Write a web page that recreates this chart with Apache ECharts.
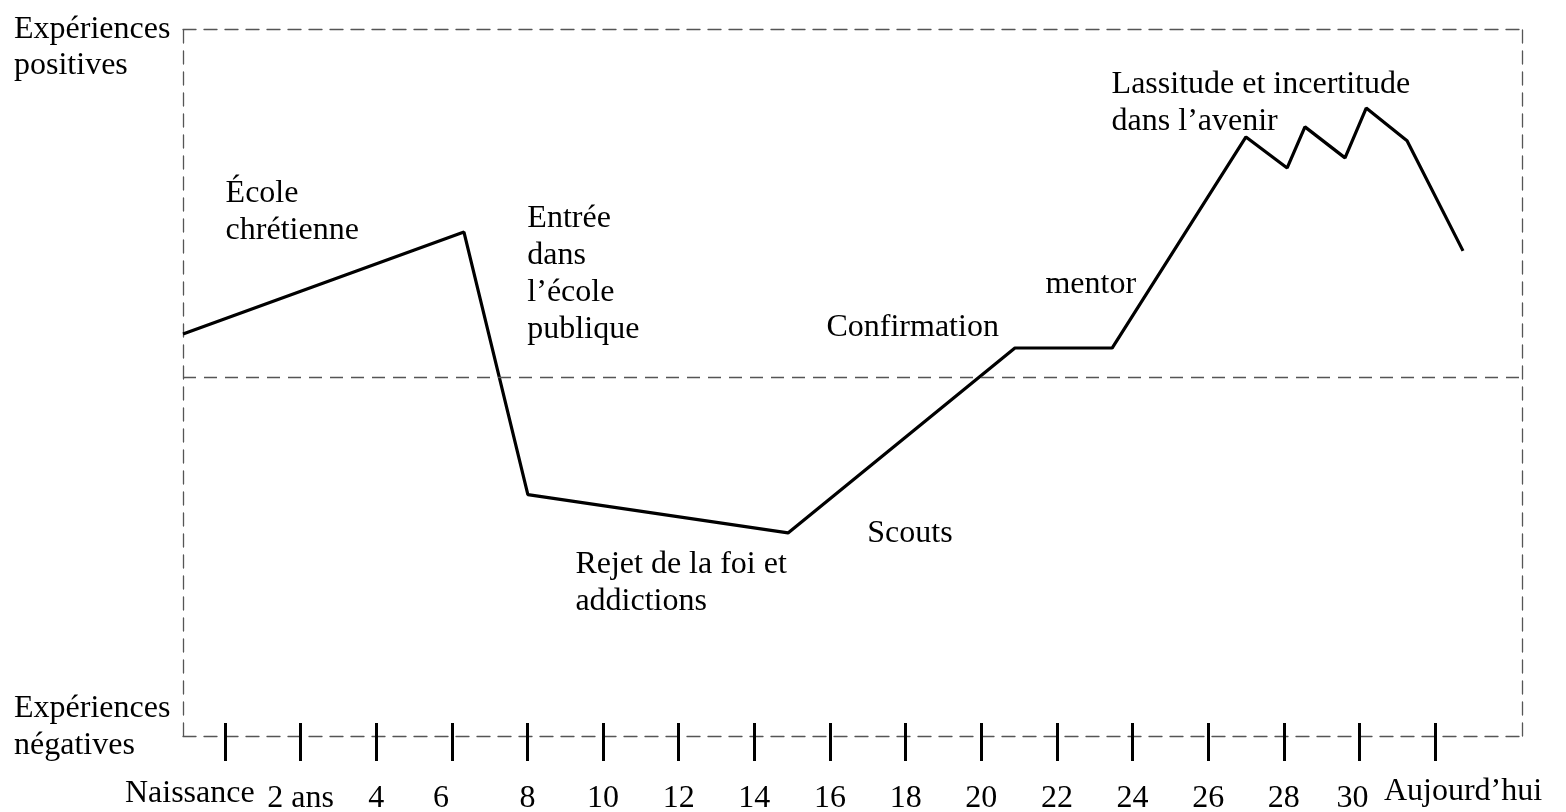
<!DOCTYPE html>
<html>
<head>
<meta charset="utf-8">
<script src="https://cdn.jsdelivr.net/npm/echarts@6/dist/echarts.min.js"></script>
<style>
	html, body { margin: 0; padding: 0; background: #fff; }
	#chart { width: 1566px; height: 812px; }
</style>
</head>
<body>
<div id="chart"></div>
<script>
	// courbe de vie : âge (ans) et ressenti (positif > 0, négatif < 0)
	const ages = [-1.11, 6.32, 8.01, 14.89, 20.89, 23.46, 27.0, 28.09, 28.56, 29.62, 30.18, 31.26, 32.74];
	const feelings = [1.24, 4.17, -3.37, -4.47, 0.84, 0.84, 6.90, 6.01, 7.19, 6.30, 7.73, 6.79, 3.63];

	// graduations de l'axe des âges
	const tickAges = [0, 2, 4, 6, 8, 10, 12, 14, 16, 18, 20, 22, 24, 26, 28, 30, 32];
	const tickLabels = ['Naissance', '2 ans', '4', '6', '8', '10', '12', '14', '16', '18', '20', '22', '24', '26', '28', '30', 'Aujourd\u2019hui'];

	// événements annotés (coin haut-gauche du texte)
	const eventLabels = [
		'École\nchrétienne',
		'Entrée\ndans\nl\u2019école\npublique',
		'Rejet de la foi et\naddictions',
		'Scouts',
		'Confirmation',
		'mentor',
		'Lassitude et incertitude\ndans l\u2019avenir'
	];
	const eventAges = [0.03, 8.01, 9.28, 17.0, 15.92, 21.71, 23.46];
	const eventLevels = [5.78, 5.06, -4.85, -3.96, 1.93, 3.19, 8.93];

	const X_MIN = -1.11, X_MAX = 34.3;
	const Y_MIN = -10.3, Y_MAX = 10;
	const FONT = '"Liberation Serif", "DejaVu Serif", serif';
	const dashed = { color: '#555', width: 1.3, type: [13, 8] };
	const txt = { fontFamily: FONT, fontSize: 32, lineHeight: 37, color: '#000' };

	// petit décalage horizontal de certains libellés (en années), comme sur l'original
	const labelShift = { 0: -0.93, 6: -0.29, 30: -0.18, 32: 0.74 };
	const labelValues = tickAges.map(a => a + (labelShift[a] || 0));
	const nearest = (v) => {
		let best = 0;
		labelValues.forEach((l, i) => { if (Math.abs(l - v) < Math.abs(labelValues[best] - v)) best = i; });
		return best;
	};

	const chart = echarts.init(document.getElementById('chart'));

	const option = {
		animation: false,
		backgroundColor: '#fff',
		grid: { left: 183, right: 44, top: 29, bottom: 76, outerBoundsMode: 'none' },
		xAxis: [{
			type: 'value', min: X_MIN, max: X_MAX, position: 'bottom',
			axisLine: { show: true, onZero: false, lineStyle: dashed },
			axisTick: { show: true, customValues: tickAges, inside: true, length: 13, lineStyle: { color: '#000', width: 3 } },
			axisLabel: {
				customValues: labelValues,
				margin: 37,
				showMinLabel: true,
				showMaxLabel: true,
				hideOverlap: false,
				formatter: (v) => {
					const i = nearest(v);
					const t = tickLabels[i];
					if (i === 0) return '{a|' + t + '}';
					if (i === tickLabels.length - 1) return '{b|' + t + '}';
					return '{n|' + t + '}';
				},
				rich: {
					n: Object.assign({}, txt, { padding: [14, 0, 0, 0] }),
					a: Object.assign({}, txt, { padding: [5, 0, 0, 0] }),
					b: Object.assign({}, txt, { padding: [0, 0, 0, 0] })
				}
			},
			splitLine: { show: false }
		}, {
			type: 'value', min: X_MIN, max: X_MAX, position: 'bottom',
			axisLine: { show: false, onZero: false },
			axisTick: { show: true, customValues: tickAges, length: 25, lineStyle: { color: '#000', width: 3 } },
			axisLabel: { show: false },
			splitLine: { show: false }
		}, {
			type: 'value', min: X_MIN, max: X_MAX, position: 'top',
			axisLine: { show: true, onZero: false, lineStyle: dashed },
			axisTick: { show: false },
			axisLabel: { show: false },
			splitLine: { show: false }
		}],
		yAxis: [{
			type: 'value', min: Y_MIN, max: Y_MAX, position: 'left',
			axisLine: { show: true, onZero: false, lineStyle: dashed },
			axisTick: { show: false },
			axisLabel: { show: false },
			splitLine: { show: false }
		}, {
			type: 'value', min: Y_MIN, max: Y_MAX, position: 'right',
			axisLine: { show: true, onZero: false, lineStyle: dashed },
			axisTick: { show: false },
			axisLabel: { show: false },
			splitLine: { show: false }
		}],
		graphic: [{
			type: 'text', left: 14, top: 12, silent: true,
			style: { text: 'Expériences\npositives', font: '32px ' + FONT, lineHeight: 36, fill: '#000' }
		}, {
			type: 'text', left: 14, top: 690, silent: true,
			style: { text: 'Expériences\nnégatives', font: '32px ' + FONT, lineHeight: 37, fill: '#000' }
		}],
		series: [{
			type: 'line',
			xAxisIndex: 0, yAxisIndex: 0,
			data: ages.map((a, i) => [a, feelings[i]]),
			showSymbol: false,
			symbol: 'none',
			lineStyle: { color: '#000', width: 3.2 },
			silent: true,
			markLine: {
				silent: true,
				symbol: 'none',
				label: { show: false },
				lineStyle: dashed,
				data: [{ yAxis: 0 }]
			}
		}, {
			type: 'scatter',
			xAxisIndex: 0, yAxisIndex: 0,
			clip: false,
			silent: true,
			symbolSize: 1,
			itemStyle: { color: 'rgba(0,0,0,0)', opacity: 1 },
			data: eventAges.map((a, i) => ({ value: [a, eventLevels[i]], name: eventLabels[i] })),
			label: Object.assign({
				show: true,
				position: [0, 0],
				align: 'left',
				verticalAlign: 'top',
				opacity: 1,
				formatter: (p) => p.name
			}, txt)
		}]
	};

	chart.setOption(option);
	window.addEventListener('resize', () => chart.resize());
</script>
</body>
</html>
